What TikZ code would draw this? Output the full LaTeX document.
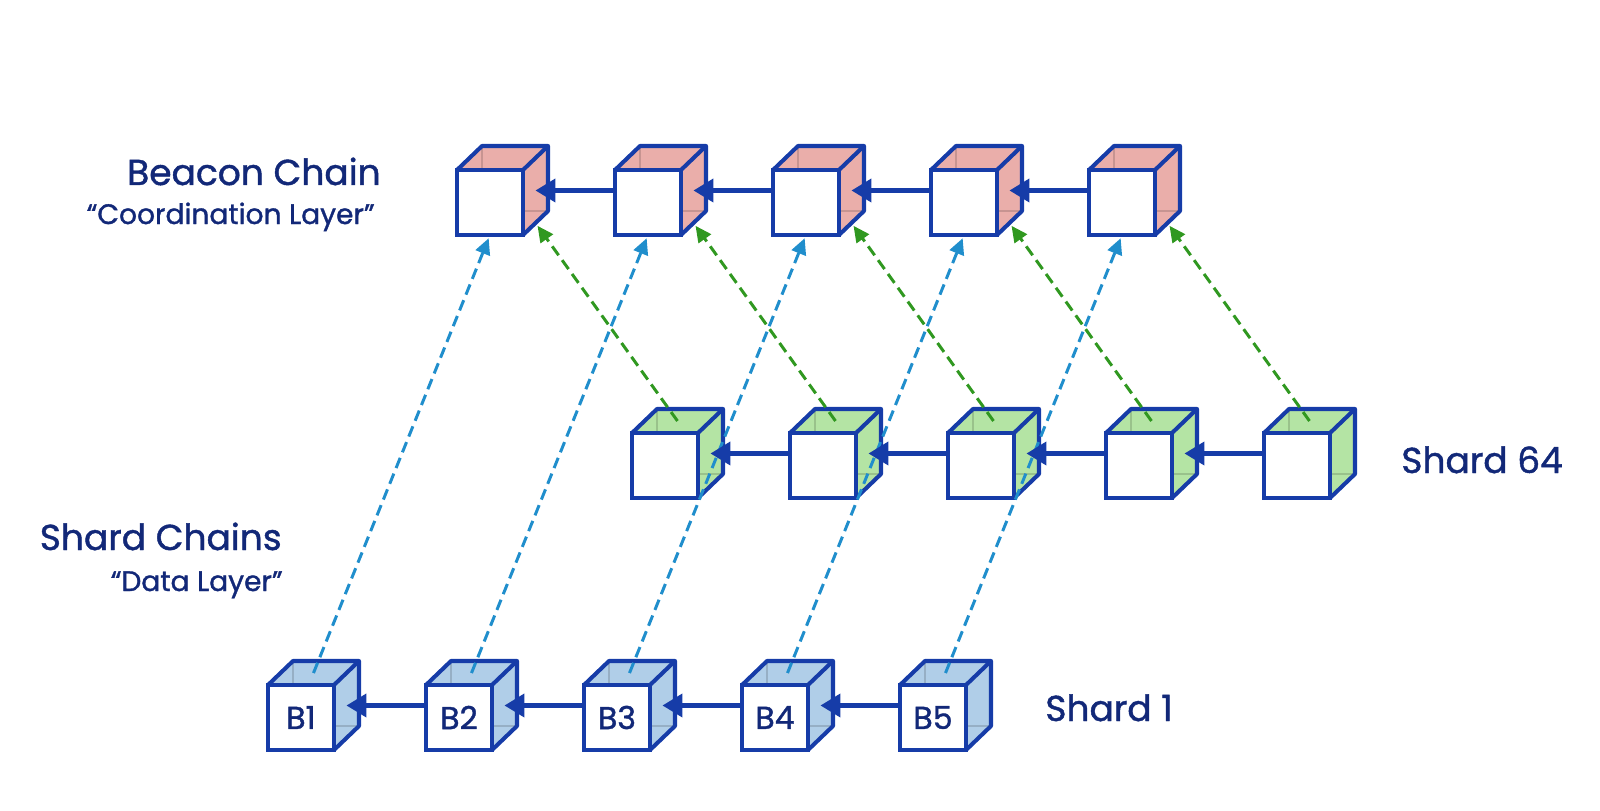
\documentclass[tikz,border=0pt]{standalone}
\usepackage{fontspec}
\setmainfont{Poppins}[FakeBold=1.2]
\usetikzlibrary{arrows.meta}

\definecolor{edgeblue}{RGB}{22,60,168}
\definecolor{labelnavy}{RGB}{18,40,120}
\definecolor{beaconred}{RGB}{234,174,170}
\definecolor{shardgreen}{RGB}{180,228,164}
\definecolor{shardblue}{RGB}{176,206,232}
\definecolor{dashblue}{RGB}{32,142,204}
\definecolor{dashgreen}{RGB}{48,152,32}

\tikzstyle{cubeface} = [draw=edgeblue, fill=white, line width=2.3pt, outer sep=0pt, inner sep=0pt, minimum width=1.32cm, minimum height=1.3cm, text=labelnavy, font=\fontsize{18}{20}\selectfont]
\tikzstyle{chainlink} = [draw=edgeblue, line width=2.4pt, -{Triangle[length=0.4cm,width=0.46cm]}]
\tikzstyle{datalink} = [draw=dashblue, line width=1.7pt, dash pattern=on 0.22cm off 0.12cm, shorten >=2pt, -{Triangle[length=0.32cm,width=0.3cm]}]
\tikzstyle{shardlink} = [draw=dashgreen, line width=1.7pt, dash pattern=on 0.22cm off 0.12cm, shorten >=2pt, -{Triangle[length=0.32cm,width=0.3cm]}]
\tikzstyle{titlelabel} = [text=labelnavy, inner sep=0pt, font=\fontsize{20.5}{24}\selectfont]
\tikzstyle{sublabel} = [text=labelnavy, inner sep=0pt, font=\fontsize{16}{19}\selectfont]

% name, x, y (top left of front face), fill, label
\newcommand{\blockcube}[5]{%
  \path[fill=#4] (#2,#3) -- ++(25,-24) -- ++(66,0) -- ++(0,65) -- ++(-25,24) -- ++(0,-65) -- cycle;
  \draw[#4!85!black, line width=1pt] (#2+25,#3-24) -- ++(0,65) -- ++(66,0);
  \node[cubeface, anchor=north west] (#1) at (#2,#3) {#5};
  \draw[edgeblue, line width=2.3pt, line join=round] (#1.north west) -- ++(25,-24) -- ++(66,0) -- ++(0,65) -- ++(-25,24);
  \draw[edgeblue, line width=2.3pt] (#1.north east) -- ++(25,-24);
  \coordinate (#1-top) at ([shift={(12.5,-12)}]#1.north);
  \coordinate (#1-side) at ([shift={(12.5,-12)}]#1.east);
  \coordinate (#1-foot) at ([shift={(12.5,-12)}]#1.south east);
}

\begin{document}
\begin{tikzpicture}[x=0.02cm, y=-0.02cm]
\useasboundingbox (0,0) rectangle (1600,811);

%%%% labels
\node[titlelabel, anchor=base east] (beacon) at (381,185) {Beacon Chain};
\node[sublabel, anchor=base east] (coord) at (375,224) {“Coordination Layer”};
\node[titlelabel, anchor=base east] (shards) at (282,550) {Shard Chains};
\node[sublabel, anchor=base east] (datalayer) at (283,591) {“Data Layer”};
\node[titlelabel, anchor=base west] (shard64) at (1401,473) {Shard 64};
\node[titlelabel, anchor=base west] (shard1) at (1045,721) {Shard 1};

%%%% beacon chain
\blockcube{bc1}{457}{170}{beaconred}{}
\blockcube{bc2}{615}{170}{beaconred}{}
\blockcube{bc3}{773}{170}{beaconred}{}
\blockcube{bc4}{931}{170}{beaconred}{}
\blockcube{bc5}{1089}{170}{beaconred}{}

%%%% shard 64
\blockcube{sb1}{632}{433}{shardgreen}{}
\blockcube{sb2}{790}{433}{shardgreen}{}
\blockcube{sb3}{948}{433}{shardgreen}{}
\blockcube{sb4}{1106}{433}{shardgreen}{}
\blockcube{sb5}{1264}{433}{shardgreen}{}

%%%% shard 1
\blockcube{b1}{268}{685}{shardblue}{B1}
\blockcube{b2}{426}{685}{shardblue}{B2}
\blockcube{b3}{584}{685}{shardblue}{B3}
\blockcube{b4}{742}{685}{shardblue}{B4}
\blockcube{b5}{900}{685}{shardblue}{B5}

% shard 1 -> beacon
\path [datalink] (b1-top) to (bc1.south);
\path [datalink] (b2-top) to (bc2.south);
\path [datalink] (b3-top) to (bc3.south);
\path [datalink] (b4-top) to (bc4.south);
\path [datalink] (b5-top) to (bc5.south);

% shard 64 -> beacon
\path [shardlink] (sb1-top) to (bc1-foot);
\path [shardlink] (sb2-top) to (bc2-foot);
\path [shardlink] (sb3-top) to (bc3-foot);
\path [shardlink] (sb4-top) to (bc4-foot);
\path [shardlink] (sb5-top) to (bc5-foot);

% chains
\path [chainlink] (bc2.west |- bc1-side) to (bc1-side);
\path [chainlink] (bc3.west |- bc2-side) to (bc2-side);
\path [chainlink] (bc4.west |- bc3-side) to (bc3-side);
\path [chainlink] (bc5.west |- bc4-side) to (bc4-side);

\path [chainlink] (sb2.west |- sb1-side) to (sb1-side);
\path [chainlink] (sb3.west |- sb2-side) to (sb2-side);
\path [chainlink] (sb4.west |- sb3-side) to (sb3-side);
\path [chainlink] (sb5.west |- sb4-side) to (sb4-side);

\path [chainlink] (b2.west |- b1-side) to (b1-side);
\path [chainlink] (b3.west |- b2-side) to (b2-side);
\path [chainlink] (b4.west |- b3-side) to (b3-side);
\path [chainlink] (b5.west |- b4-side) to (b4-side);
\end{tikzpicture}
\end{document}
